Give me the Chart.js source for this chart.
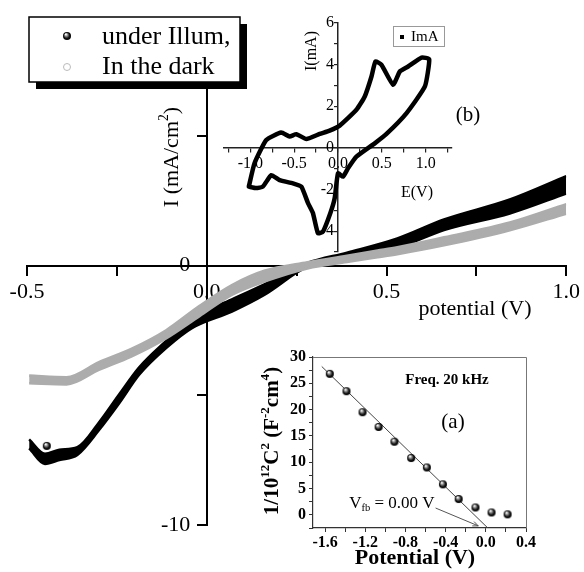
<!DOCTYPE html>
<html>
<head>
<meta charset="utf-8">
<title>I-V curves</title>
<script src="https://cdn.jsdelivr.net/npm/chart.js@4.4.1/dist/chart.umd.min.js"></script>
<style>
  body { margin: 0; background: #fff; }
  #wrap { position: relative; width: 584px; height: 572px; overflow: hidden; }
  #wrap canvas { position: absolute; }
</style>
</head>
<body>
<div id="wrap">
  <canvas id="mainChart" width="584" height="572" style="left:0;top:0"></canvas>
  <canvas id="mottChart" width="290" height="232" style="left:250px;top:340px"></canvas>
  <canvas id="cvChart" width="300" height="270" style="left:200px;top:0"></canvas>
</div>
<script>
const FONT = '"Liberation Serif", "Times New Roman", serif';

// main plot: current density (mA/cm2) against potential (V), two sweeps per curve
const illumV = [-0.494, -0.45, -0.41, -0.36, -0.30, -0.243, -0.188, -0.113, -0.04, 0.07, 0.16, 0.28, 0.39, 0.53, 0.66, 0.843, 1.0];
const illumUpper = [-6.7, -7.25, -7.1, -7.0, -6.05, -4.95, -3.92, -2.9, -2.0, -1.3, -0.72, 0.1, 0.5, 1.05, 1.78, 2.55, 3.45];
const illumLower = [-7.05, -7.65, -7.5, -7.3, -6.35, -5.3, -4.21, -3.18, -2.4, -1.77, -1.13, -0.05, 0.22, 0.67, 1.37, 2.01, 2.78];
const darkV = [-0.494, -0.39, -0.30, -0.21, -0.113, -0.02, 0.07, 0.16, 0.28, 0.39, 0.475, 0.53, 0.66, 0.843, 1.0];
const darkUpper = [-4.24, -4.3, -3.72, -3.21, -2.49, -1.55, -0.75, -0.2, 0.13, 0.38, 0.58, 0.71, 1.09, 1.66, 2.37];
const darkLower = [-4.54, -4.58, -4.02, -3.51, -2.81, -1.95, -1.13, -0.62, -0.11, 0.14, 0.32, 0.44, 0.78, 1.36, 2.0];
const symbolV = [-0.445];
const symbolI = [-6.95];
const mainLabelsX = [-0.5, 0, 0.5, 1.0];
const mainLabelsY = [0, -10];

// inset (a): Mott-Schottky points and the fitted line
const mottV = [-1.553, -1.387, -1.227, -1.067, -0.91, -0.743, -0.587, -0.427, -0.27, -0.103, 0.057, 0.217];
const mottY = [26.8, 23.5, 19.5, 16.7, 13.9, 10.8, 9.0, 5.8, 3.0, 1.4, 0.45, 0.1];
const fitV = [-1.633, 0.02];
const fitY = [28.2, -2.5];

// inset (b): cyclic voltammogram, E (V) and I (mA)
const cvE = [-1.017, -0.952, -0.818, -0.647, -0.552, -0.475, -0.361, -0.209, -0.095, 0.019, 0.21, 0.305, 0.382, 0.427, 0.496, 0.629, 0.705, 0.80, 0.953, 1.04,
             0.991, 0.782, 0.553, 0.419, 0.21, 0.114, 0.057, 0.0, -0.038, -0.087, -0.171, -0.229, -0.286, -0.343, -0.418, -0.514, -0.666, -0.761, -0.857, -0.933, -1.017];
const cvI = [-1.86, -0.74, 0.38, 0.74, 0.55, 0.66, 0.43, 0.67, 0.83, 1.07, 1.83, 2.47, 3.43, 4.15, 3.99, 3.03, 3.67, 3.91, 4.34, 4.26,
             2.95, 1.67, 0.67, 0.22, -0.42, -0.98, -1.38, -1.22, -2.42, -3.13, -4.02, -4.1, -3.13, -2.64, -1.86, -1.7, -1.55, -1.31, -1.86, -1.93, -1.86];

function pts(xs, ys) {
  return xs.map((x, i) => ({ x: x, y: ys[i] }));
}

// shaded black ball used as the point symbol
function ballImage(r) {
  const c = document.createElement('canvas');
  c.width = c.height = 2 * r + 2;
  const g = c.getContext('2d');
  const grad = g.createRadialGradient(r + 1 - r * 0.3, r + 1 - r * 0.45, r * 0.1, r + 1, r + 1, r);
  grad.addColorStop(0, '#ffffff');
  grad.addColorStop(0.35, '#808080');
  grad.addColorStop(0.7, '#111');
  grad.addColorStop(1, '#000');
  g.fillStyle = grad;
  g.beginPath();
  g.arc(r + 1, r + 1, r, 0, 2 * Math.PI);
  g.fill();
  return c;
}
const BALL = ballImage(4);

// text made of runs, each run normal, 'sup' or 'sub'
function richText(ctx, runs, x, y, size, weight, rotated, align) {
  const font = s => `${weight} ${s}px ${FONT}`;
  ctx.save();
  ctx.translate(x, y);
  if (rotated) ctx.rotate(-Math.PI / 2);
  ctx.textBaseline = 'middle';
  ctx.textAlign = 'left';
  ctx.fillStyle = '#000';
  let total = 0;
  runs.forEach(([t, k]) => {
    ctx.font = font(k ? size * 0.62 : size);
    total += ctx.measureText(t).width;
  });
  let cx = align === 'center' ? -total / 2 : (align === 'right' ? -total : 0);
  runs.forEach(([t, k]) => {
    const s = k ? size * 0.62 : size;
    ctx.font = font(s);
    const dy = k === 'sup' ? -size * 0.33 : (k === 'sub' ? size * 0.32 : 0);
    ctx.fillText(t, cx, dy);
    cx += ctx.measureText(t).width;
  });
  ctx.restore();
}

function isStep(v, step) {
  const r = v / step;
  return Math.abs(r - Math.round(r)) < 1e-6;
}

function fmt(v) {
  return Math.abs(v) < 1e-9 ? '0.0' : v.toFixed(1);
}

// ---------- main chart ----------
const mainDecor = {
  id: 'mainDecor',
  afterDraw(chart) {
    const ctx = chart.ctx;
    // legend with drop shadow
    ctx.save();
    ctx.fillStyle = '#000';
    ctx.fillRect(36, 24, 211, 65);
    ctx.fillStyle = '#fff';
    ctx.fillRect(29, 17, 211, 65);
    ctx.strokeStyle = '#000';
    ctx.lineWidth = 1.5;
    ctx.strokeRect(29, 17, 211, 65);
    ctx.drawImage(BALL, 67 - 5, 36 - 5);
    ctx.strokeStyle = '#bbb';
    ctx.lineWidth = 1;
    ctx.beginPath();
    ctx.arc(67, 67, 3.5, 0, 2 * Math.PI);
    ctx.stroke();
    ctx.restore();
    richText(ctx, [['under Illum,']], 102, 37, 26, 'normal', false, 'left');
    richText(ctx, [['In the dark']], 102, 67, 26, 'normal', false, 'left');

    // axis titles
    richText(ctx, [['I (mA/cm'], ['2', 'sup'], [')']], 172, 157, 22, 'normal', true, 'center');
    richText(ctx, [['potential (V)']], 475, 309, 22, 'normal', false, 'center');
  }
};

new Chart(document.getElementById('mainChart'), {
  type: 'line',
  data: {
    datasets: [
      { label: 'In the dark', data: pts(darkV, darkUpper), borderColor: '#acacac', borderWidth: 2.5,
        pointRadius: 0, cubicInterpolationMode: 'monotone', fill: false, order: 1 },
      { label: 'In the dark, return', data: pts(darkV, darkLower), borderColor: '#acacac', backgroundColor: '#acacac',
        borderWidth: 2.5, pointRadius: 0, cubicInterpolationMode: 'monotone', fill: '-1', order: 1 },
      { label: 'under Illum,', data: pts(illumV, illumUpper), borderColor: '#000', borderWidth: 2.5,
        pointRadius: 0, cubicInterpolationMode: 'monotone', fill: false, order: 2 },
      { label: 'under Illum, return', data: pts(illumV, illumLower), borderColor: '#000', backgroundColor: '#000',
        borderWidth: 2.5, pointRadius: 0, cubicInterpolationMode: 'monotone', fill: '-1', order: 2 },
      { type: 'scatter', label: 'symbol', data: pts(symbolV, symbolI), pointStyle: BALL, pointRadius: 5, order: 0 }
    ]
  },
  options: {
    responsive: false,
    animation: false,
    layout: { padding: { left: 27, right: 13, top: 84, bottom: 47 } },
    plugins: { legend: { display: false }, tooltip: { enabled: false } },
    scales: {
      x: {
        type: 'linear', min: -0.5, max: 1.0, position: { y: 0 },
        ticks: {
          stepSize: 0.25, autoSkip: false, maxRotation: 0, padding: 4, color: '#000',
          font: { family: FONT, size: 22 },
          callback: v => mainLabelsX.some(m => Math.abs(m - v) < 1e-6) ? fmt(v) : ''
        },
        grid: { drawOnChartArea: false, tickLength: 9, color: '#000', lineWidth: 2 },
        border: { display: true, color: '#000', width: 2 }
      },
      y: {
        type: 'linear', min: -10, max: 7, position: { x: 0 },
        ticks: {
          stepSize: 5, includeBounds: false, autoSkip: false, padding: 6, color: '#000',
          font: { family: FONT, size: 22 },
          // a centred axis puts its labels flush with the line, the trailing spaces keep them clear of the ticks
          callback: v => mainLabelsY.includes(v) ? String(v) + '   ' : ''
        },
        grid: { drawOnChartArea: false, tickLength: 9, color: '#000', lineWidth: 2 },
        border: { display: true, color: '#000', width: 2 }
      }
    }
  },
  plugins: [mainDecor]
});

// ---------- inset (a) ----------
const mottDecor = {
  id: 'mottDecor',
  afterDraw(chart) {
    const ctx = chart.ctx;
    const a = chart.chartArea;
    const sx = chart.scales.x, sy = chart.scales.y;
    ctx.save();
    ctx.strokeStyle = '#777';
    ctx.lineWidth = 1;
    ctx.beginPath();
    ctx.moveTo(a.left, a.top + 0.5);
    ctx.lineTo(a.right + 0.5, a.top + 0.5);
    ctx.lineTo(a.right + 0.5, a.bottom);
    ctx.stroke();

    // pointer from the flat-band label to the intercept
    const x0 = sx.getPixelForValue(-0.5), y0 = sy.getPixelForValue(1.3);
    const x1 = sx.getPixelForValue(-0.075), y1 = sy.getPixelForValue(-2.1);
    ctx.strokeStyle = '#555';
    ctx.beginPath();
    ctx.moveTo(x0, y0);
    ctx.lineTo(x1, y1);
    const ang = Math.atan2(y1 - y0, x1 - x0);
    ctx.moveTo(x1, y1);
    ctx.lineTo(x1 - 6 * Math.cos(ang - 0.4), y1 - 6 * Math.sin(ang - 0.4));
    ctx.moveTo(x1, y1);
    ctx.lineTo(x1 - 6 * Math.cos(ang + 0.4), y1 - 6 * Math.sin(ang + 0.4));
    ctx.stroke();
    ctx.restore();

    richText(ctx, [['V'], ['fb', 'sub'], [' = 0.00 V']], sx.getPixelForValue(-1.36), sy.getPixelForValue(2.2), 17, 'normal', false, 'left');
    richText(ctx, [['Freq. 20 kHz']], 197, 40, 15, 'bold', false, 'center');
    richText(ctx, [['(a)']], 203, 82, 21, 'normal', false, 'center');
    richText(ctx, [['1/10'], ['12', 'sup'], ['C'], ['2', 'sup'], [' (F'], ['-2', 'sup'], ['cm'], ['4', 'sup'], [')']],
      23, 101, 21, 'bold', true, 'center');
    richText(ctx, [['Potential (V)']], 165, 218, 22, 'bold', false, 'center');
  }
};

new Chart(document.getElementById('mottChart'), {
  type: 'scatter',
  data: {
    datasets: [
      { label: 'fit', type: 'line', data: pts(fitV, fitY), borderColor: '#444', borderWidth: 1,
        pointRadius: 0, fill: false, order: 2 },
      { label: '1/C2', data: pts(mottV, mottY), pointStyle: BALL, pointRadius: 5, order: 1 }
    ]
  },
  options: {
    responsive: false,
    animation: false,
    layout: { padding: { left: 0, right: 14, top: 17, bottom: 0 } },
    plugins: { legend: { display: false }, tooltip: { enabled: false } },
    scales: {
      x: {
        type: 'linear', position: 'bottom', min: -1.72, max: 0.4,
        afterFit: s => { s.height = 44; },
        ticks: {
          stepSize: 0.2, includeBounds: false, autoSkip: false, maxRotation: 0, padding: 1, color: '#000',
          font: { family: FONT, size: 16, weight: 'bold' },
          callback: v => isStep(v, 0.4) ? fmt(v) : ''
        },
        grid: { drawOnChartArea: false, tickLength: 4, color: '#333', lineWidth: 1 },
        border: { display: true, color: '#333', width: 1.2 }
      },
      y: {
        type: 'linear', position: 'left', min: -2.5, max: 30,
        afterFit: s => { s.width = 63; },
        ticks: {
          stepSize: 2.5, includeBounds: false, autoSkip: false, padding: 3, color: '#000',
          font: { family: FONT, size: 16, weight: 'bold' },
          callback: v => isStep(v, 5) ? String(Math.round(v)) : ''
        },
        grid: { drawOnChartArea: false, tickLength: 4, color: '#333', lineWidth: 1 },
        border: { display: true, color: '#333', width: 1.2 }
      }
    }
  },
  plugins: [mottDecor]
});

// ---------- inset (b) ----------
const cvDecor = {
  id: 'cvDecor',
  afterDraw(chart) {
    const ctx = chart.ctx;
    richText(ctx, [['I(mA)']], 112, 51, 16, 'normal', true, 'center');
    richText(ctx, [['E(V)']], 217, 193, 16, 'normal', false, 'center');
    richText(ctx, [['(b)']], 268, 115, 21, 'normal', false, 'center');
    // legend box
    ctx.save();
    ctx.strokeStyle = '#999';
    ctx.lineWidth = 1;
    ctx.strokeRect(193.5, 26.5, 51, 20);
    ctx.fillStyle = '#000';
    ctx.fillRect(200, 35, 4, 4);
    ctx.restore();
    richText(ctx, [['ImA']], 211, 37, 15, 'normal', false, 'left');
  }
};

new Chart(document.getElementById('cvChart'), {
  type: 'line',
  data: {
    datasets: [
      { label: 'ImA', data: pts(cvE, cvI), borderColor: '#000', borderWidth: 4.5, borderJoinStyle: 'round',
        borderCapStyle: 'round', pointRadius: 0, tension: 0.15, fill: false }
    ]
  },
  options: {
    responsive: false,
    animation: false,
    layout: { padding: { left: 24, right: 48, top: 23, bottom: 18 } },
    plugins: { legend: { display: false }, tooltip: { enabled: false } },
    scales: {
      x: {
        type: 'linear', min: -1.3, max: 1.3, position: { y: 0 },
        ticks: {
          stepSize: 0.25, includeBounds: false, autoSkip: false, maxRotation: 0, padding: 2, color: '#000',
          font: { family: FONT, size: 16 },
          callback: v => isStep(v, 0.5) ? fmt(v) : ''
        },
        grid: { drawOnChartArea: false, tickLength: 4, color: '#222', lineWidth: 1.2 },
        border: { display: true, color: '#222', width: 1.5 }
      },
      y: {
        type: 'linear', min: -5, max: 6, position: { x: 0 },
        ticks: {
          stepSize: 1, includeBounds: false, autoSkip: false, padding: 1, color: '#000',
          font: { family: FONT, size: 16 },
          callback: v => isStep(v, 2) ? String(Math.round(v)) + ' ' : ''
        },
        grid: { drawOnChartArea: false, tickLength: 3, color: '#222', lineWidth: 1.2 },
        border: { display: true, color: '#222', width: 1.5 }
      }
    }
  },
  plugins: [cvDecor]
});
</script>
</body>
</html>
